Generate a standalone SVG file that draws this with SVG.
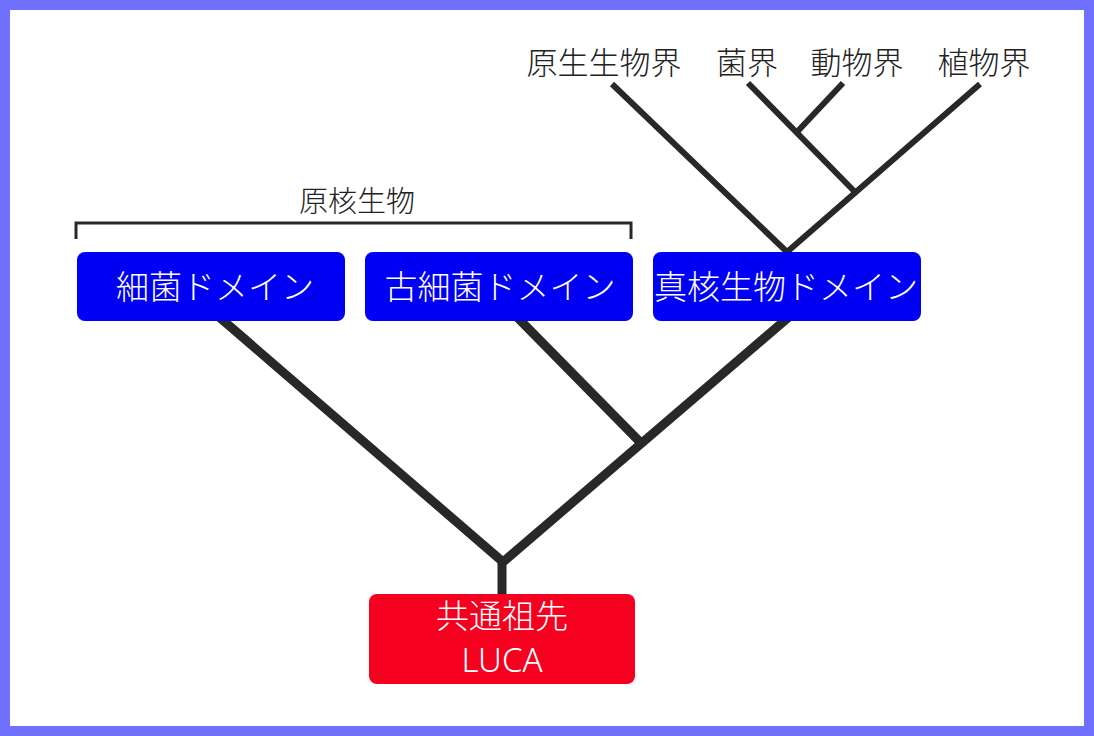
<svg xmlns="http://www.w3.org/2000/svg" width="1094" height="736" viewBox="0 0 1094 736">
<style>
.lbl{font-family:"Noto Sans CJK JP","Noto Sans",sans-serif;font-weight:300;fill:#222;text-anchor:middle;dominant-baseline:central}
.box-t{font-family:"Noto Sans CJK JP","Noto Sans",sans-serif;font-weight:300;fill:#fff;text-anchor:middle;dominant-baseline:central;font-size:33px}
.dom{fill:#0000f5}
.luca{fill:#f60020}
.thick{stroke:#282828;stroke-width:9;fill:none}
.thin{stroke:#282828;stroke-width:6;fill:none}
</style>
<rect x="0" y="0" width="1094" height="736" fill="#7070ff"/>
<rect x="10" y="10" width="1074" height="716" fill="#fff"/>
<g id="connectors">
<path class="thick" d="M218 316 L503 562 L790 316"/>
<path class="thick" d="M516 316 L640 442"/>
<path class="thick" d="M502 562 L502 596"/>
<path class="thin" d="M612 84 L787 252 L980 84"/>
<path class="thin" d="M855 192 L748 83"/>
<path class="thin" d="M797 132 L843 83"/>
<path d="M76 239 L76 223 L631 223 L631 239" stroke="#282828" stroke-width="3" fill="none"/>
</g>
<g id="prokaryote-label"><text class="lbl" x="357" y="199" font-size="29">原核生物</text></g>
<g id="bacteria"><rect class="dom" x="77" y="252" width="268" height="69" rx="8"/><text class="box-t" x="215" y="285">細菌ドメイン</text></g>
<g id="archaea"><rect class="dom" x="365" y="252" width="268" height="69" rx="8"/><text class="box-t" x="500" y="285">古細菌ドメイン</text></g>
<g id="eukarya"><rect class="dom" x="653" y="252" width="268" height="69" rx="8"/><text class="box-t" x="786" y="285">真核生物ドメイン</text></g>
<g id="luca"><rect class="luca" x="369" y="594" width="266" height="90" rx="8"/><text class="box-t" x="502" y="614" font-size="31">共通祖先</text><text class="box-t" x="502" y="659" font-size="31" font-family="Noto Sans, sans-serif" style="font-family:'Noto Sans',sans-serif">LUCA</text></g>
<g id="protista"><text class="lbl" x="604" y="60" font-size="31">原生生物界</text></g>
<g id="fungi"><text class="lbl" x="747" y="60" font-size="31">菌界</text></g>
<g id="animalia"><text class="lbl" x="857" y="60" font-size="31">動物界</text></g>
<g id="plantae"><text class="lbl" x="984" y="60" font-size="31">植物界</text></g>
</svg>
